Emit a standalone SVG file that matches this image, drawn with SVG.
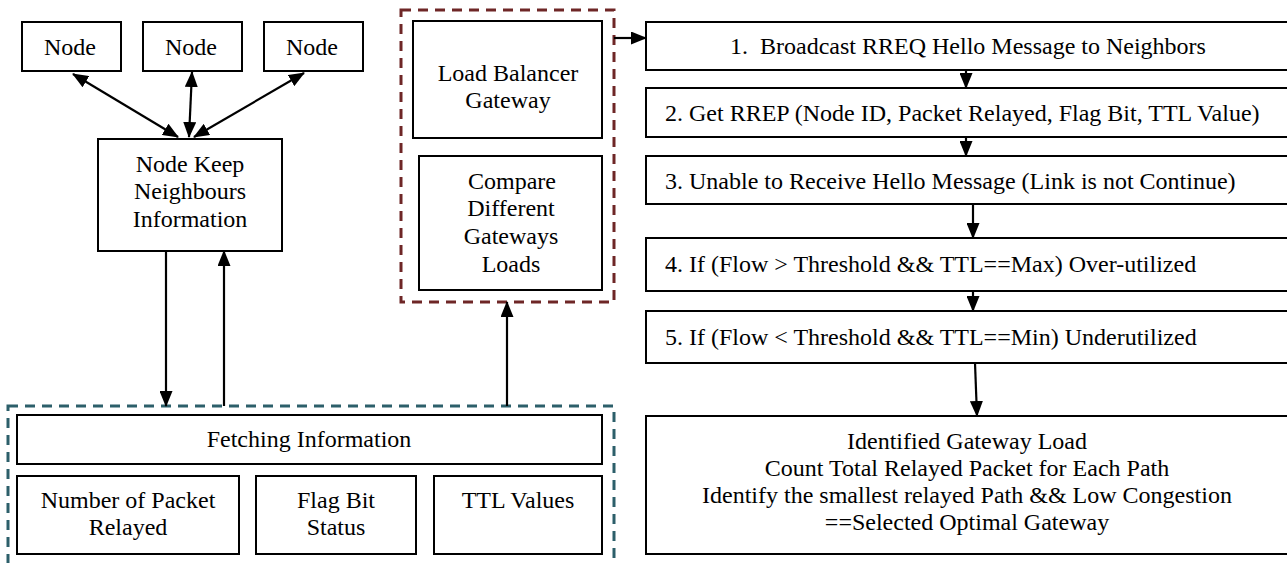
<svg xmlns="http://www.w3.org/2000/svg" width="1287" height="563" viewBox="0 0 1287 563">
<style>
  .box { fill: #ffffff; stroke: #000000; stroke-width: 2; }
  .t { font-family: "Liberation Serif", "Times New Roman", serif; font-size: 24px; fill: #000000; }
  .c { text-anchor: middle; }
  .conn { stroke: #000000; stroke-width: 2.2; fill: none; }
  .dashRed { fill: none; stroke: #6e2626; stroke-width: 3; stroke-dasharray: 10 7; }
  .dashTeal { fill: none; stroke: #2c5f6a; stroke-width: 3; stroke-dasharray: 10 7; }
</style>
<defs>
  <marker id="ah" viewBox="0 0 16 13" refX="15" refY="6.5" markerWidth="16" markerHeight="13" markerUnits="userSpaceOnUse" orient="auto-start-reverse">
    <path d="M0,0 L16,6.5 L0,13 z" fill="#000000"/>
  </marker>
</defs>
<rect width="1287" height="563" fill="#ffffff"/>

<!-- group containers -->
<g id="gateway-group">
  <rect class="dashRed" x="401" y="10" width="213" height="292"/>
</g>
<g id="fetch-group">
  <rect class="dashTeal" x="8" y="406" width="606" height="170"/>
</g>

<!-- left nodes -->
<g id="node1">
  <rect class="box" x="22" y="22" width="99" height="49"/>
  <text class="t c" x="70" y="55">Node</text>
</g>
<g id="node2">
  <rect class="box" x="143" y="22" width="99" height="49"/>
  <text class="t c" x="191" y="55">Node</text>
</g>
<g id="node3">
  <rect class="box" x="264" y="22" width="99" height="49"/>
  <text class="t c" x="312" y="55">Node</text>
</g>
<g id="node-keep">
  <rect class="box" x="98" y="139" width="184" height="112"/>
  <text class="t c" x="190" y="172">Node Keep</text>
  <text class="t c" x="190" y="199">Neighbours</text>
  <text class="t c" x="190" y="227">Information</text>
</g>

<!-- gateway boxes -->
<g id="load-balancer">
  <rect class="box" x="413" y="21" width="189" height="117"/>
  <text class="t c" x="508" y="81">Load Balancer</text>
  <text class="t c" x="508" y="108">Gateway</text>
</g>
<g id="compare">
  <rect class="box" x="419" y="156" width="183" height="134"/>
  <text class="t c" x="512" y="189">Compare</text>
  <text class="t c" x="511" y="216">Different</text>
  <text class="t c" x="511" y="244">Gateways</text>
  <text class="t c" x="511" y="272">Loads</text>
</g>

<!-- fetching -->
<g id="fetching">
  <rect class="box" x="17" y="415" width="585" height="49"/>
  <text class="t c" x="309" y="447">Fetching Information</text>
</g>
<g id="num-packet">
  <rect class="box" x="17" y="476" width="222" height="78"/>
  <text class="t c" x="128" y="508">Number of Packet</text>
  <text class="t c" x="128" y="535">Relayed</text>
</g>
<g id="flag-bit">
  <rect class="box" x="256" y="476" width="160" height="78"/>
  <text class="t c" x="336" y="508">Flag Bit</text>
  <text class="t c" x="336" y="535">Status</text>
</g>
<g id="ttl">
  <rect class="box" x="434" y="476" width="168" height="78"/>
  <text class="t c" x="518" y="508">TTL Values</text>
</g>

<!-- right column -->
<g id="step1">
  <rect class="box" x="646" y="22" width="660" height="48"/>
  <text class="t c" x="968" y="54" xml:space="preserve">1.  Broadcast RREQ Hello Message to Neighbors</text>
</g>
<g id="step2">
  <rect class="box" x="646" y="88" width="660" height="49"/>
  <text class="t" x="665" y="121">2. Get RREP (Node ID, Packet Relayed, Flag Bit, TTL Value)</text>
</g>
<g id="step3">
  <rect class="box" x="646" y="156" width="660" height="48"/>
  <text class="t" x="665" y="189">3. Unable to Receive Hello Message (Link is not Continue)</text>
</g>
<g id="step4">
  <rect class="box" x="646" y="238" width="660" height="53"/>
  <text class="t" x="665" y="272">4. If (Flow &gt; Threshold &amp;&amp; TTL==Max) Over-utilized</text>
</g>
<g id="step5">
  <rect class="box" x="646" y="311" width="660" height="52"/>
  <text class="t" x="665" y="345">5. If (Flow &lt; Threshold &amp;&amp; TTL==Min) Underutilized</text>
</g>
<g id="result">
  <rect class="box" x="646" y="416" width="660" height="138"/>
  <text class="t c" x="967" y="449">Identified Gateway Load</text>
  <text class="t c" x="967" y="476">Count Total Relayed Packet for Each Path</text>
  <text class="t c" x="967" y="503">Identify the smallest relayed Path &amp;&amp; Low Congestion</text>
  <text class="t c" x="967" y="530">==Selected Optimal Gateway</text>
</g>

<!-- connectors -->
<g id="connectors">
  <line class="conn" x1="73" y1="74" x2="178" y2="137" marker-start="url(#ah)" marker-end="url(#ah)"/>
  <line class="conn" x1="192" y1="72" x2="189" y2="137" marker-start="url(#ah)" marker-end="url(#ah)"/>
  <line class="conn" x1="304" y1="73" x2="194" y2="137" marker-start="url(#ah)" marker-end="url(#ah)"/>
  <line class="conn" x1="166" y1="251" x2="166" y2="406" marker-end="url(#ah)"/>
  <line class="conn" x1="224" y1="406" x2="224" y2="251" marker-end="url(#ah)"/>
  <line class="conn" x1="507" y1="406" x2="507" y2="302" marker-end="url(#ah)"/>
  <line class="conn" x1="614" y1="38" x2="646" y2="38" marker-end="url(#ah)"/>
  <line class="conn" x1="966" y1="70" x2="966" y2="88" marker-end="url(#ah)"/>
  <line class="conn" x1="966" y1="137" x2="966" y2="156" marker-end="url(#ah)"/>
  <line class="conn" x1="973" y1="204" x2="973" y2="238" marker-end="url(#ah)"/>
  <line class="conn" x1="973" y1="291" x2="973" y2="311" marker-end="url(#ah)"/>
  <line class="conn" x1="975" y1="363" x2="977" y2="416" marker-end="url(#ah)"/>
</g>
</svg>
